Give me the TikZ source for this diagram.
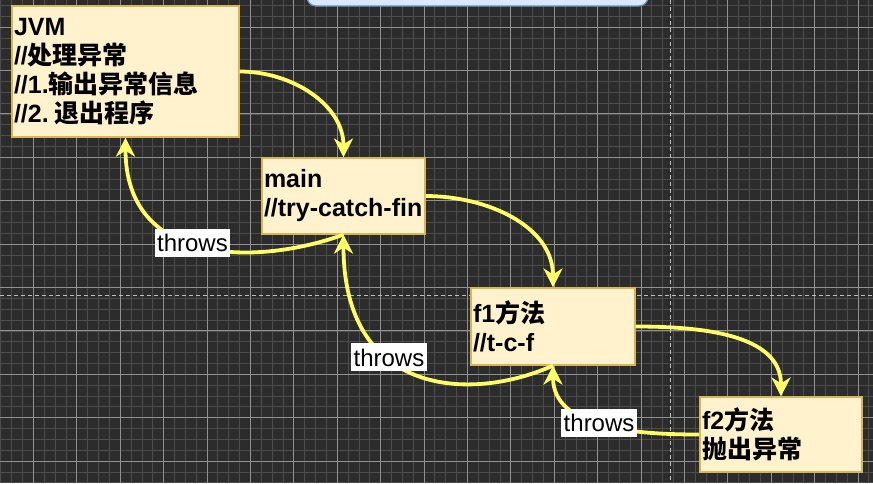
\documentclass[tikz,border=0pt]{standalone}
\usepackage{fontspec}
\setmainfont{Liberation Sans}
\newfontfamily\cjk{Noto Sans CJK SC}
\usetikzlibrary{arrows.meta,positioning}
\definecolor{canvas}{RGB}{44,44,44}
\definecolor{gridminor}{RGB}{76,76,76}
\definecolor{gridmajor}{RGB}{145,145,145}
\definecolor{pageline}{RGB}{190,190,190}
\definecolor{notefill}{RGB}{255,242,204}
\definecolor{noteline}{RGB}{214,182,86}
\definecolor{flowyellow}{RGB}{255,255,102}
\definecolor{titlefill}{RGB}{218,232,252}
\definecolor{titleline}{RGB}{108,142,191}

\begin{document}
\begin{tikzpicture}[x=1pt, y=1pt,
  note/.style={draw=noteline, fill=notefill, line width=1.2pt, align=left,
    inner xsep=2pt, inner ysep=0pt, font=\bfseries\fontsize{25}{29}\selectfont},
  flow/.style={draw=flowyellow, line width=3.8pt,
    -{Stealth[length=19pt, width=19pt, inset=6pt]}},
  throwlabel/.style={fill=white, text=black, inner xsep=2.5pt, inner ysep=0pt,
    minimum height=28pt, font=\fontsize{24}{24}\selectfont}]
  \useasboundingbox (0,0) rectangle (873,-483);

  % Canvas and grid
  \fill[canvas] (0,0) rectangle (873,-483);
  \foreach \i in {-3,...,77}
    \draw[gridminor, line width=0.6pt] ({33.3+\i*10.85},0) -- ({33.3+\i*10.85},-483);
  \foreach \i in {-2,...,42}
    \draw[gridminor, line width=0.6pt] (0,{-27-\i*10.85}) -- (873,{-27-\i*10.85});
  \foreach \i in {0,...,19}
    \draw[gridmajor, line width=0.8pt] ({33.3+\i*43.4},0) -- ({33.3+\i*43.4},-483);
  \foreach \i in {0,...,10}
    \draw[gridmajor, line width=0.8pt] (0,{-27-\i*43.4}) -- (873,{-27-\i*43.4});

  % Page breaks
  \draw[pageline, line width=1pt, dash pattern=on 4pt off 3pt] (670,0) -- (670,-483);
  \draw[pageline, line width=1pt, dash pattern=on 4pt off 3pt] (0,-295) -- (873,-295);

  % Title box (cut off at the top)
  \draw[titleline, fill=titlefill, line width=1.2pt, rounded corners=9pt]
    (307,12) rectangle (648,-6);

  % Call stack
  \node[note, text width=223pt, minimum height=131pt] (jvm) at (125.5,-71.5)
    {JVM\\//{\cjk 处理异常}\\//1.{\cjk 输出异常信息}\\//2.\hspace{6pt}{\cjk 退出程序}};
  \node[note, text width=159pt, minimum height=76pt] (main) at (343.5,-196)
    {main\\//try-catch-fin};
  \node[note, text width=160pt, minimum height=77pt] (f1) at (553,-326.5)
    {f1{\cjk 方法}\\//t-c-f};
  \node[note, text width=158pt, minimum height=75pt] (f2) at (781,-434.5)
    {f2{\cjk 方法}\\{\cjk 抛出异常}};

  % Calls
  \draw[flow] (jvm.east) to[out=0, in=90] (main.north);
  \draw[flow] (main.east) to[out=0, in=90] (f1.north);
  \draw[flow] (f1.east) to[out=0, in=90] (f2.north);

  % Exceptions thrown back
  \draw[flow] (main.south) to[out=-160, in=-90, out distance=90pt, in distance=130pt]
    node[throwlabel, pos=0.54] (thr1) {throws} (jvm.south);
  \draw[flow] (f1.south) to[out=-156, in=-90, out distance=91pt, in distance=161pt]
    node[throwlabel, pos=0.62] (thr2) {throws} (main.south);
  \draw[flow] (f2.west) to[out=180, in=-90]
    node[throwlabel, pos=0.52] (thr3) {throws} (f1.south);
\end{tikzpicture}
\end{document}
